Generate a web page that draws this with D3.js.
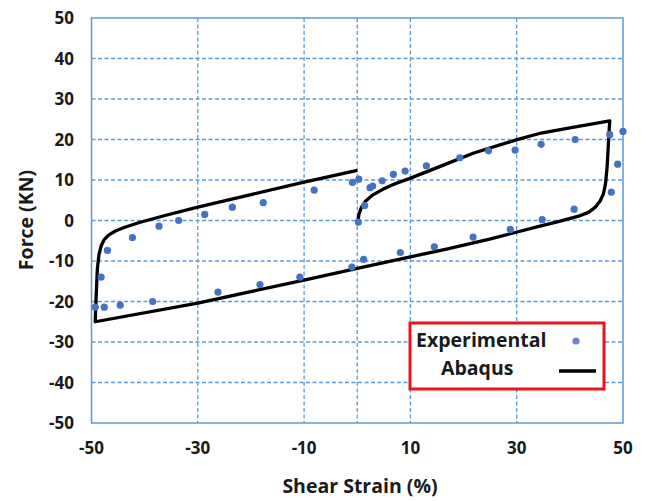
<!DOCTYPE html>
<html>
<head>
<meta charset="utf-8">
<script src="https://cdn.jsdelivr.net/npm/d3@7"></script>
<style>
  body { margin: 0; background: #fff; }
  svg text { font-family: "Open Sans", "DejaVu Sans", sans-serif; font-weight: bold; fill: #1a1a1a; }
</style>
</head>
<body>
<script>
// experimental points, in loop order (strain %, force kN)
var expStrain = [0.2, 1.4, 2.4, 2.9, 4.7, 6.8, 9.0, 13.0, 19.3, 24.7, 29.7, 34.6, 41.0, 47.5, 50.0,
  49.0, 47.8, 40.8, 34.8, 28.8, 21.8, 14.5, 8.1, 1.2, -1.0, -10.8, -18.3, -26.2, -38.5, -44.6,
  -47.6, -49.3, -48.2, -47.0, -42.3, -37.3, -33.6, -28.7, -23.5, -17.7, -8.1, -0.9, 0.3]
var expForce = [-0.4, 3.7, 8.1, 8.5, 9.8, 11.4, 12.2, 13.5, 15.5, 17.2, 17.4, 18.8, 20.0, 21.2, 22.0,
  13.9, 7.0, 2.8, 0.2, -2.2, -4.1, -6.5, -7.9, -9.6, -11.5, -14.0, -15.8, -17.7, -20.0, -20.9,
  -21.4, -21.4, -14.0, -7.4, -4.2, -1.4, 0.0, 1.5, 3.3, 4.4, 7.5, 9.4, 10.2]

// abaqus curve
var abqStrain = [0.1, 0.3, 0.8, 1.6, 2.8, 4.8, 7.0, 9.9, 15.5, 21.8, 29.9, 34.6, 40.0, 47.5,
  47.3, 47.0, 46.7, 46.3, 45.7, 44.8, 43.5, 41.5, 38.0, 34.0, 29.9, 24.9, 17.0, 10.0, 0.0, -10.0, -30.0, -49.3,
  -49.1, -48.9, -48.6, -48.2, -47.6, -46.8, -45.5, -44.0, -41.0, -36.0, -30.0, -20.0, -10.0, 0.0]
var abqForce = [-0.3, 1.5, 3.3, 4.8, 6.2, 7.7, 9.0, 10.4, 13.3, 16.6, 19.9, 21.6, 22.9, 24.6,
  20.0, 13.0, 9.0, 6.5, 4.8, 3.3, 2.0, 1.0, -0.2, -1.5, -2.9, -4.6, -7.0, -9.0, -11.8, -14.7, -20.4, -25.0,
  -18.0, -12.0, -8.5, -6.3, -4.7, -3.6, -2.6, -1.8, -0.5, 1.3, 3.3, 6.4, 9.5, 12.4]

var xTickLabels = [-50, -30, -10, 10, 30, 50]
var xGrid = [-30, -10, 0, 10, 30]
var yTicks = [-50, -40, -30, -20, -10, 0, 10, 20, 30, 40, 50]

var width = 646, height = 501
var pLeft = 91.5, pRight = 623, pTop = 18, pBottom = 423
var gridColor = "#5b9bd5"

var x = d3.scaleLinear().domain([-50, 50]).range([pLeft, pRight])
var y = d3.scaleLinear().domain([-50, 50]).range([pBottom, pTop])

var svg = d3.select("body").append("svg")
    .attr("width", width).attr("height", height)

// grid
svg.append("g").selectAll("line")
    .data(yTicks.filter(function(d) { return d > -50 && d < 50; }))
    .enter().append("line")
    .attr("x1", pLeft).attr("x2", pRight)
    .attr("y1", function(d) { return y(d); }).attr("y2", function(d) { return y(d); })
    .attr("stroke", gridColor).attr("stroke-width", 1.3).attr("stroke-dasharray", "4,2.5")

svg.append("g").selectAll("line")
    .data(xGrid)
    .enter().append("line")
    .attr("y1", pTop).attr("y2", pBottom)
    .attr("x1", function(d) { return x(d); }).attr("x2", function(d) { return x(d); })
    .attr("stroke", gridColor).attr("stroke-width", 1.3).attr("stroke-dasharray", "4,2.5")

svg.append("rect")
    .attr("x", pLeft).attr("y", pTop)
    .attr("width", pRight - pLeft).attr("height", pBottom - pTop)
    .attr("fill", "none").attr("stroke", gridColor).attr("stroke-width", 1.5)

// tick labels
svg.append("g").selectAll("text")
    .data(yTicks)
    .enter().append("text")
    .attr("x", 74).attr("y", function(d) { return y(d) + 6; })
    .attr("text-anchor", "end").attr("font-size", 17)
    .text(function(d) { return d; })

svg.append("g").selectAll("text")
    .data(xTickLabels)
    .enter().append("text")
    .attr("x", function(d) { return x(d); }).attr("y", 454)
    .attr("text-anchor", "middle").attr("font-size", 17)
    .text(function(d) { return d; })

svg.append("text")
    .attr("x", 360).attr("y", 493)
    .attr("text-anchor", "middle").attr("font-size", 19.5)
    .text("Shear Strain (%)")

svg.append("text")
    .attr("transform", "translate(33,220) rotate(-90)")
    .attr("text-anchor", "middle").attr("font-size", 19.5)
    .text("Force (KN)")

// abaqus line
var abq = abqStrain.map(function(d, i) { return [d, abqForce[i]]; })
var line = d3.line()
    .x(function(d) { return x(d[0]); })
    .y(function(d) { return y(d[1]); })

svg.append("path")
    .datum(abq)
    .attr("d", line)
    .attr("fill", "none").attr("stroke", "#000").attr("stroke-width", 3.3)
    .attr("stroke-linejoin", "round")

// experimental points
svg.append("g").selectAll("circle")
    .data(expStrain)
    .enter().append("circle")
    .attr("cx", function(d) { return x(d); })
    .attr("cy", function(d, i) { return y(expForce[i]); })
    .attr("r", 3.6)
    .attr("fill", "#4472c4")

// legend
var lg = svg.append("g")
lg.append("rect")
    .attr("x", 410).attr("y", 323).attr("width", 194).attr("height", 66)
    .attr("fill", "#fff").attr("stroke", "#e5141d").attr("stroke-width", 3)
lg.append("text").attr("x", 416).attr("y", 347).attr("font-size", 19.5).text("Experimental")
lg.append("text").attr("x", 441).attr("y", 375).attr("font-size", 19.5).text("Abaqus")
lg.append("circle").attr("cx", 576).attr("cy", 341).attr("r", 3.6).attr("fill", "#6b7fd8")
lg.append("line").attr("x1", 559).attr("x2", 596).attr("y1", 371).attr("y2", 371)
    .attr("stroke", "#000").attr("stroke-width", 3.5)
</script>
</body>
</html>
